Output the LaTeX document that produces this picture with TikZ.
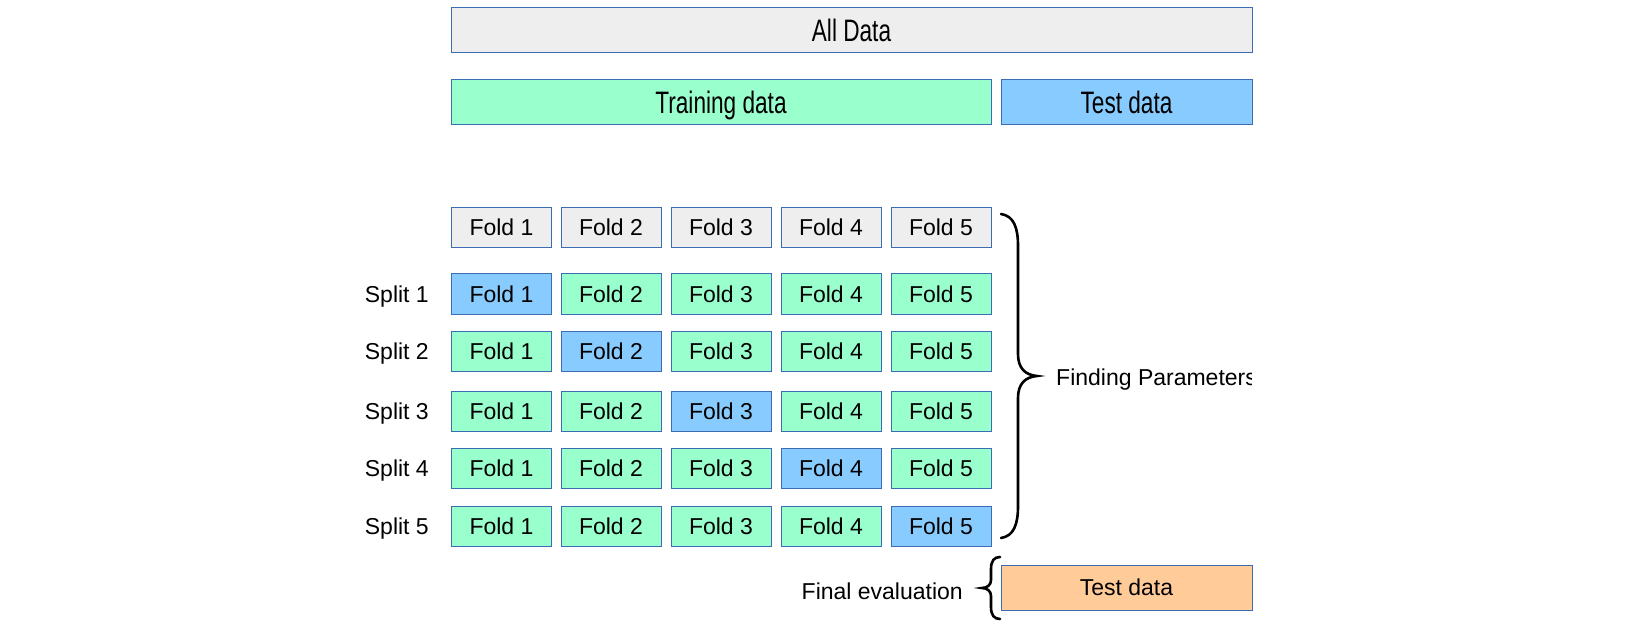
\documentclass[tikz,border=0pt]{standalone}
\usepackage{fontspec}
\setmainfont{Liberation Sans}
\newfontfamily\narrowfont[FakeStretch=0.73]{Liberation Sans}
\definecolor{bordercol}{HTML}{3C6DB4}
\definecolor{grayfill}{HTML}{EEEEEE}
\definecolor{greenfill}{HTML}{99FFCC}
\definecolor{bluefill}{HTML}{88CCFF}
\definecolor{orangefill}{HTML}{FFCC99}
\begin{document}
\begin{tikzpicture}[x=1pt,y=-1pt,
  box/.style={draw=bordercol, line width=1pt, inner sep=0pt, outer sep=0pt,
    text depth=0pt, align=center},
  bigbox/.style={box, minimum height=45pt, text height=22.2pt, font=\narrowfont\fontsize{31}{31}\selectfont},
  fold/.style={box, minimum width=100pt, minimum height=40pt, text height=16.4pt, font=\fontsize{23}{23}\selectfont},
  lbl/.style={inner sep=0pt, text height=16.4pt, text depth=0pt, font=\fontsize{23}{23}\selectfont},
  bracepath/.style={line width=2.6pt, line cap=round}]
\useasboundingbox (0,0) rectangle (1638,628);
\fill[white] (0,0) rectangle (1638,628);

% top bars
\node[bigbox, fill=grayfill, minimum width=801pt] (all) at (851.5,30.5) {All Data};
\node[bigbox, fill=greenfill, minimum width=540pt] (train) at (721,102.5) {Training data};
\node[bigbox, fill=bluefill, minimum width=251pt] (test) at (1126.5,102.5) {Test data};

% fold header row
\foreach \i/\x in {1/501.5,2/611,3/721,4/831,5/941}{
  \node[fold, fill=grayfill] (h\i) at (\x,227.5) {Fold \i};
}

% split rows
\foreach \r/\y in {1/294,2/351,3/411.5,4/468,5/526.5}{
  \node[lbl, anchor=east] (s\r) at (429,\y) {Split \r};
  \foreach \i/\x in {1/501.5,2/611,3/721,4/831,5/941}{
    \ifnum\i=\r
      \node[fold, fill=bluefill] (f\r\i) at (\x,\y) {Fold \i};
    \else
      \node[fold, fill=greenfill] (f\r\i) at (\x,\y) {Fold \i};
    \fi
  }
}

% big brace
\coordinate (bt) at (1001,214);
\coordinate (bb) at (1001,538);
\coordinate (btip) at (1037,376);
\draw[bracepath] (bt) .. controls (1014,216) and (1018,228) .. (1018,246)
  -- (1018,354) .. controls (1018,368) and (1025,375) .. (btip)
  .. controls (1025,377) and (1018,384) .. (1018,398)
  -- (1018,506) .. controls (1018,524) and (1014,536) .. (bb);
\begin{scope}
  \clip (1040,340) rectangle (1251,420);
  \node[lbl, anchor=west] (fp) at (1056,377) {Finding Parameters};
\end{scope}

% final evaluation
\node[box, fill=orangefill, minimum width=251pt, minimum height=45pt, text height=16.4pt, font=\fontsize{23}{23}\selectfont] (final) at (1126.5,587.5) {Test data};
\coordinate (st) at (1000,557);
\coordinate (sb) at (1000,619);
\coordinate (stip) at (982,588);
\draw[bracepath] (st) .. controls (994,557) and (991,561) .. (991,569)
  -- (991,580) .. controls (991,585) and (987,588) .. (stip)
  .. controls (987,588) and (991,591) .. (991,596)
  -- (991,607) .. controls (991,615) and (994,619) .. (sb);
\node[lbl, anchor=east] (fe) at (963,591) {Final evaluation};
\end{tikzpicture}
\end{document}
